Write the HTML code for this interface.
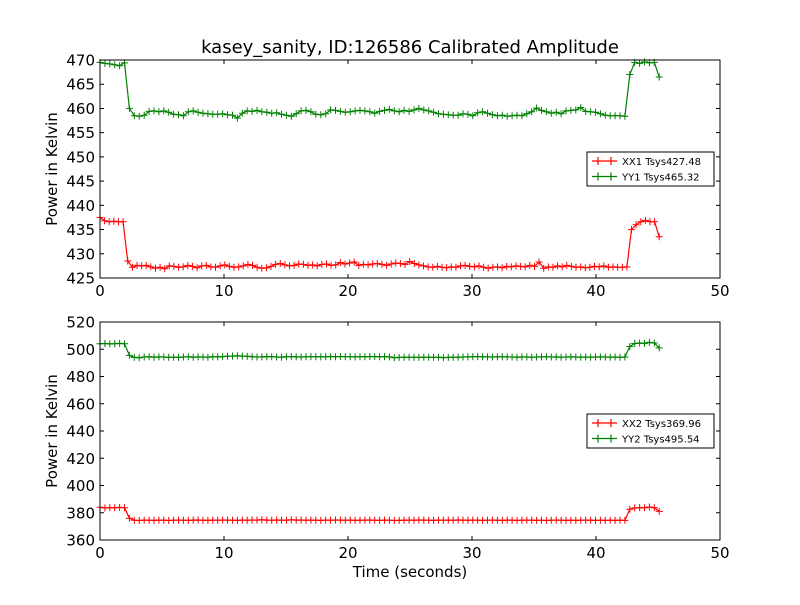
<!DOCTYPE html>
<html><head><meta charset="utf-8"><style>
body{margin:0;background:#fff;}
svg text{font-family:"DejaVu Sans","Liberation Sans",sans-serif;}
</style></head><body>
<svg id="chart" width="800" height="600" xmlns="http://www.w3.org/2000/svg">
<rect width="800" height="600" fill="#fff"/>
<text x="410" y="53" font-size="18" text-anchor="middle">kasey_sanity, ID:126586 Calibrated Amplitude</text>
<g id="top"></g>
<g id="bot"></g>
<text x="410" y="577" font-size="15" text-anchor="middle">Time (seconds)</text>
</svg>
<script>
const xTicks=[0,10,20,30,40,50];
const topYTicks=[425,430,435,440,445,450,455,460,465,470];
const botYTicks=[360,380,400,420,440,460,480,500,520];
const tEnd=45.1;
const xx1=[437.5,436.8,436.6,436.7,436.6,436.6,428.5,427.2,427.6,427.5,427.6,427.3,427.0,427.2,426.9,427.5,427.4,427.2,427.3,427.6,427.4,427.1,427.5,427.6,427.3,427.2,427.5,427.7,427.4,427.2,427.3,427.5,427.8,427.6,427.2,427.0,427.1,427.4,427.8,428.0,427.7,427.5,427.6,427.9,427.8,427.6,427.7,427.5,427.8,427.9,427.6,427.7,428.2,427.9,428.1,428.3,427.6,427.8,427.7,427.9,428.0,427.8,427.6,427.9,428.1,428.0,427.8,428.4,428.0,427.7,427.5,427.3,427.2,427.4,427.2,427.1,427.3,427.2,427.5,427.6,427.4,427.3,427.5,427.2,427.0,427.2,427.3,427.1,427.4,427.3,427.5,427.4,427.3,427.6,427.4,428.3,427.0,427.3,427.2,427.5,427.3,427.6,427.4,427.2,427.3,427.1,427.2,427.4,427.3,427.5,427.2,427.3,427.2,427.2,427.3,435.0,436.0,436.6,436.9,436.6,436.6,433.5];
const yy1=[469.5,469.3,469.2,469.0,468.8,469.4,460.0,458.5,458.4,458.6,459.4,459.5,459.3,459.5,459.2,458.8,458.7,458.5,459.3,459.5,459.2,459.0,458.9,458.8,458.8,458.9,458.7,458.6,458.0,459.0,459.5,459.4,459.6,459.3,459.2,459.0,459.1,458.8,458.6,458.4,458.9,459.5,459.6,459.3,458.8,458.7,458.9,459.7,459.6,459.4,459.2,459.3,459.5,459.6,459.5,459.3,459.0,459.4,459.6,459.8,459.5,459.3,459.6,459.4,459.7,460.0,459.7,459.5,459.2,458.9,458.8,458.7,458.6,458.6,458.9,458.8,458.5,459.1,459.3,459.0,458.7,458.5,458.6,458.4,458.5,458.6,458.5,458.9,459.3,460.1,459.6,459.3,459.0,459.2,458.9,459.5,459.6,459.7,460.2,459.4,459.3,459.2,458.9,458.6,458.5,458.5,458.5,458.4,467.0,469.5,469.3,469.6,469.4,469.5,466.5];
const xx2=[384,383.5,383.8,383.6,383.9,383.7,376,374.5,374.3,374.6,374.5,374.4,374.6,374.5,374.3,374.5,374.6,374.5,374.4,374.6,374.7,374.5,374.4,374.6,374.5,374.7,374.6,374.5,374.4,374.6,374.5,374.7,374.6,374.8,374.6,374.5,374.7,374.6,374.5,374.8,374.6,374.7,374.5,374.6,374.5,374.4,374.6,374.5,374.7,374.6,374.5,374.6,374.4,374.5,374.6,374.7,374.5,374.4,374.6,374.5,374.3,374.4,374.5,374.6,374.5,374.7,374.6,374.5,374.4,374.6,374.5,374.6,374.5,374.7,374.6,374.5,374.6,374.5,374.4,374.5,374.6,374.5,374.4,374.6,374.5,374.4,374.5,374.6,374.5,374.4,374.5,374.3,374.5,374.6,374.5,374.4,374.5,374.4,374.5,374.6,374.5,374.4,374.5,374.4,374.5,374.4,374.5,374.4,382.5,383.5,383.8,383.6,384.2,383.7,381.0];
const yy2=[504,504.2,503.9,504.1,504.3,504.0,495.5,494.0,493.8,494.3,494.5,494.2,494.4,494.3,494.1,494.2,494.0,494.3,494.5,494.2,494.4,494.3,494.2,494.5,494.4,494.6,494.8,495.0,495.2,495.0,494.8,494.5,494.3,494.4,494.6,494.5,494.3,494.2,494.5,494.6,494.4,494.3,494.5,494.6,494.5,494.4,494.5,494.6,494.5,494.7,494.6,494.5,494.4,494.6,494.5,494.7,494.6,494.5,494.6,494.4,493.8,494.0,494.1,494.2,494.1,494.0,494.2,494.1,494.0,494.1,493.9,494.0,494.2,494.1,494.3,494.4,494.5,494.6,494.5,494.4,494.3,494.4,494.5,494.4,494.3,494.2,494.4,494.3,494.2,494.3,494.4,494.5,494.3,494.4,494.2,494.3,494.4,494.3,494.2,494.3,494.2,494.3,494.4,494.3,494.2,494.3,494.2,494.3,502.0,504.2,504.5,504.3,505.0,504.6,501.0];
const NS='http://www.w3.org/2000/svg';
function mk(tag,attrs,parent){const e=document.createElementNS(NS,tag);for(const k in attrs)e.setAttribute(k,attrs[k]);parent.appendChild(e);return e;}
function panel(g,top,bottom,ymin,ymax,yTicks,series,legendY){
  const L=100,R=720;
  const xs=v=>L+(v-0)/(50-0)*(R-L);
  const ys=v=>bottom-(v-ymin)/(ymax-ymin)*(bottom-top);
  for(const s of series){
    const n=s.data.length;
    let d='';
    s.data.forEach((v,i)=>{const x=xs(i*tEnd/(n-1)),y=ys(v);d+=(i?'L':'M')+x.toFixed(1)+' '+y.toFixed(1);});
    const p=mk('path',{d:d,fill:'none',stroke:s.color,'stroke-width':1.2},g);
    
    
    let md='';
    s.data.forEach((v,i)=>{const x=xs(i*tEnd/(n-1)),y=ys(v);md+=`M${(x-3.5).toFixed(1)} ${y.toFixed(1)}h7M${x.toFixed(1)} ${(y-3.5).toFixed(1)}v7`;});
    const m=mk('path',{d:md,stroke:s.color,'stroke-width':1},g);
    
    
  }
  const fr=mk('rect',{x:L,y:top,width:R-L,height:bottom-top,fill:'none',stroke:'#000','stroke-width':1},g);
  
  
  xTicks.forEach(t=>{
    const x=xs(t);
    mk('path',{d:`M${x} ${bottom}v-4M${x} ${top}v4`,stroke:'#000'},g);
    const tx=mk('text',{x:x,y:bottom+18,'font-size':15,'text-anchor':'middle'},g);
    tx.textContent=t;
    
    
  });
  yTicks.forEach(t=>{
    const y=ys(t);
    mk('path',{d:`M${L} ${y}h4M${R} ${y}h-4`,stroke:'#000'},g);
    const tx=mk('text',{x:L-5,y:y+5.5,'font-size':15,'text-anchor':'end'},g);
    tx.textContent=t;
    
    
  });
  const yl=mk('text',{x:57,y:(top+bottom)/2,'font-size':15,'text-anchor':'middle',transform:`rotate(-90 57 ${(top+bottom)/2})`},g);
  yl.textContent='Power in Kelvin';
  
  
  const lg=mk('g',{},g);
  
  
  mk('rect',{x:587,y:legendY,width:127,height:34,fill:'#fff',stroke:'#000'},lg);
  series.forEach((s,i)=>{
    const y=legendY+9+i*15.5;
    mk('path',{d:`M592 ${y}h25M598 ${y-4}v8M611 ${y-4}v8`,stroke:s.color,'stroke-width':1.2},lg);
    const t=mk('text',{x:622,y:y+4,'font-size':10},lg);
    t.textContent=s.label;
    
    
  });
}
panel(document.getElementById('top'),60,278,425,470,topYTicks,
  [{name:'xx1',data:xx1,color:'#ff0000',label:'XX1 Tsys427.48'},{name:'yy1',data:yy1,color:'#008000',label:'YY1 Tsys465.32'}],152);
panel(document.getElementById('bot'),322,540,360,520,botYTicks,
  [{name:'xx2',data:xx2,color:'#ff0000',label:'XX2 Tsys369.96'},{name:'yy2',data:yy2,color:'#008000',label:'YY2 Tsys495.54'}],414);
</script>
</body></html>
